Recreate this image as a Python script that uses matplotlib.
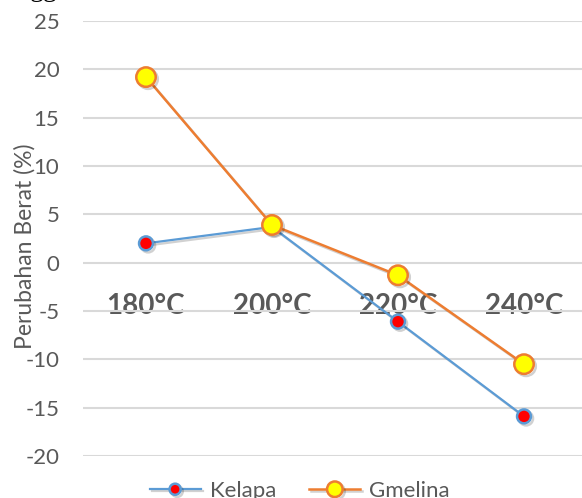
import matplotlib
matplotlib.use('Agg')
import matplotlib.pyplot as plt
import matplotlib.patheffects as pe

plt.rcParams['font.family'] = ['Lato', 'DejaVu Sans']

# data
suhu = ['180°C', '200°C', '220°C', '240°C']
kelapa = [2.0, 3.7, -6.1, -15.9]
gmelina = [19.2, 3.9, -1.3, -10.5]
y_ticks = [-20, -15, -10, -5, 0, 5, 10, 15, 20, 25]

grey = '#595959'
blue = '#5b9bd5'
orange = '#ed7d31'

fig = plt.figure(figsize=(5.82, 4.98), dpi=100)
ax = fig.add_axes([0.1426, 0.0843, 0.866, 0.8735])

x = list(range(len(suhu)))
shadow = [pe.SimpleLineShadow(offset=(1.5, -1.5), alpha=0.18), pe.Normal()]

ax.plot(x, kelapa, color=blue, lw=1.6, marker='o', ms=10,
        mfc='red', mec=blue, mew=1.8, label='Kelapa', path_effects=shadow, zorder=3)
ax.plot(x, gmelina, color=orange, lw=1.8, marker='o', ms=14,
        mfc='yellow', mec=orange, mew=1.8, label='Gmelina', path_effects=shadow, zorder=4)

# category labels sit just under the zero line, like the Excel original
ax.spines['bottom'].set_position(('data', 0))
for s in ax.spines.values():
    s.set_color('none')

ax.set_xlim(-0.5, len(suhu) - 0.5)
ax.set_ylim(-20, 25)
ax.set_yticks(y_ticks)
ax.set_yticklabels([str(v) for v in y_ticks])
ax.set_xticks(x)
ax.set_xticklabels(suhu, fontweight='bold', fontsize=20, color=grey)

ax.tick_params(axis='x', length=0, pad=21.5)
ax.tick_params(axis='y', length=0, pad=17, labelsize=16, labelcolor=grey)
ax.grid(axis='y', color='#d9d9d9', lw=1.5)
ax.set_axisbelow(True)

fig.text(25 / 582, (498 - 246) / 498, 'Perubahan Berat (%)', rotation=90,
         ha='center', va='center', fontsize=16.5, color=grey)

leg = fig.legend(loc='center', bbox_to_anchor=(0.515, 0.014), ncol=2, frameon=False,
                 fontsize=16, handlelength=2.3, columnspacing=1.5, handletextpad=0.4,
                 markerscale=0.8)
for t in leg.get_texts():
    t.set_color(grey)

# descenders of the caption line above, cut off by the crop
fig.text(30 / 582, 1 + 4 / 498, 'gg', fontsize=20, family='Liberation Serif', color='black')

fig.savefig('out.png', dpi=100)
